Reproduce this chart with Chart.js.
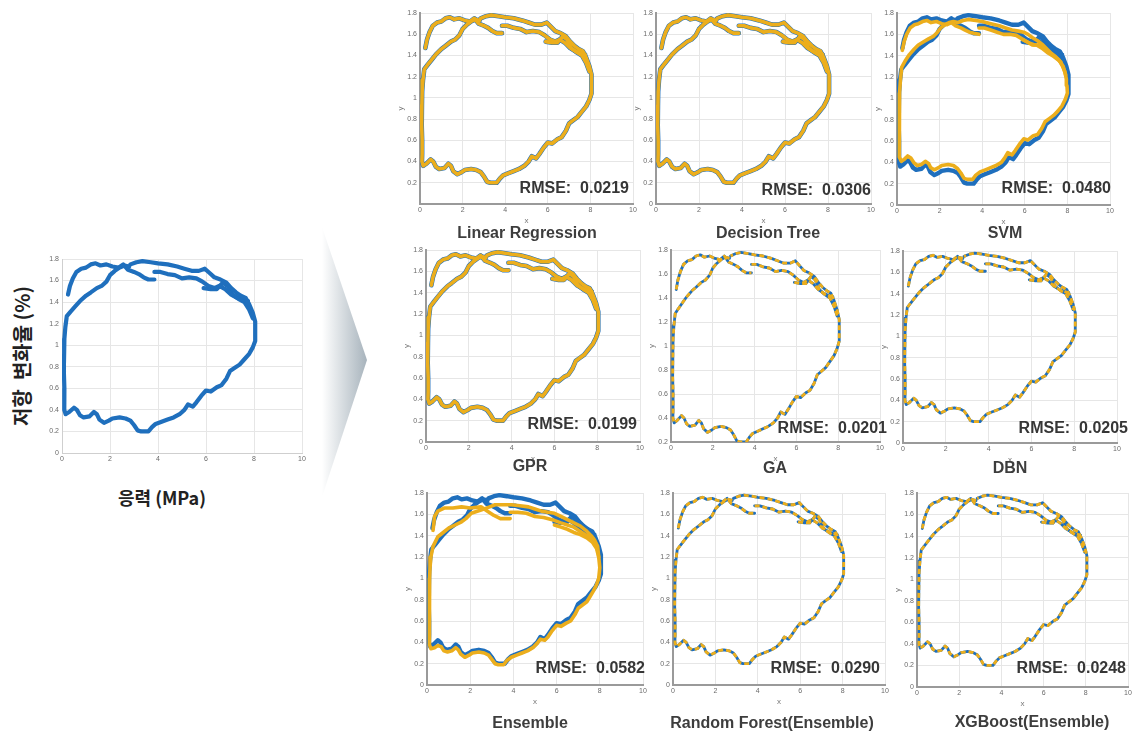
<!DOCTYPE html>
<html>
<head>
<meta charset="utf-8">
<script src="https://cdn.jsdelivr.net/npm/chart.js@4/dist/chart.umd.min.js"></script>
<style>
  body { margin: 0; background: #fff; width: 1135px; height: 738px; position: relative; overflow: hidden;
         font-family: "Liberation Sans", Arial, sans-serif; }
  .plot { position: absolute; }
  .txt { position: absolute; white-space: pre; font-weight: bold; color: #3d3d3d; line-height: 1; }
  .title { font-size: 16px; transform: translate(-50%, -50%); }
  .rmse { font-size: 16px; color: #363636; transform: translate(-100%, -50%); }
  .kr { font-family: "Noto Sans CJK KR", sans-serif; color: #222; }
</style>
</head>
<body>
<svg width="1135" height="738" style="position:absolute;left:0;top:0">
  <defs>
    <linearGradient id="chev" x1="0" x2="1" y1="0" y2="0">
      <stop offset="0" stop-color="#ffffff"/>
      <stop offset="1" stop-color="#a7b3bc"/>
    </linearGradient>
  </defs>
  <polygon points="322,227 367,360 322,497" fill="url(#chev)"/>
</svg>
<script>
// axis ticks shared by every panel
const xTicks = [0, 2, 4, 6, 8, 10]
const xTickLabels = ['0', '2', '4', '6', '8', '10']
const yTicks = [0, 0.2, 0.4, 0.6, 0.8, 1, 1.2, 1.4, 1.6, 1.8]
const yTickLabels = ['0', '0.2', '0.4', '0.6', '0.8', '1', '1.2', '1.4', '1.6', '1.8']

const models = ['Linear Regression', 'Decision Tree', 'SVM', 'GPR', 'GA', 'DBN',
  'Ensemble', 'Random Forest(Ensemble)', 'XGBoost(Ensemble)']
const rmse = ['0.0219', '0.0306', '0.0480', '0.0199', '0.0201', '0.0205', '0.0582', '0.0290', '0.0248']
const yAxisMin = [0, 0, 0, 0, 0.2, 0, 0, 0, 0]

// measured stress (MPa) vs resistance change (%) — main loop path
const measuredLoop = [
  [2.80,1.73],[2.60,1.74],[2.40,1.72],[2.20,1.69],[2.00,1.65],[1.85,1.59],[1.65,1.55],[1.45,1.53],[1.20,1.49],
  [1.00,1.46],[0.75,1.41],[0.55,1.36],[0.35,1.31],[0.20,1.27],[0.14,1.17],
  [0.10,1.06],[0.09,0.93],[0.08,0.82],[0.08,0.74],[0.10,0.60],[0.10,0.47],[0.09,0.40],[0.15,0.36],
  [0.30,0.38],[0.50,0.42],[0.62,0.40],[0.75,0.35],[0.90,0.33],[1.15,0.34],[1.33,0.38],[1.45,0.36],[1.56,0.31],
  [1.75,0.28],[1.95,0.30],[2.10,0.32],[2.40,0.33],[2.65,0.32],[2.85,0.30],[3.00,0.26],[3.15,0.21],[3.30,0.20],
  [3.60,0.20],[3.75,0.24],[3.90,0.27],[4.15,0.29],[4.40,0.31],[4.65,0.33],[4.90,0.36],[5.10,0.40],[5.25,0.45],
  [5.45,0.43],[5.60,0.47],[5.80,0.53],[6.00,0.58],[6.20,0.57],[6.45,0.61],[6.65,0.63],[6.85,0.69],[7.00,0.76],
  [7.20,0.79],[7.40,0.82],[7.60,0.87],[7.80,0.92],[7.95,0.98],[8.05,1.04],
  [8.05,1.13],[8.05,1.22],[7.95,1.30],[7.80,1.38],[7.65,1.44],[7.45,1.46],[7.25,1.49],[7.05,1.53],[6.85,1.58],
  [6.60,1.61],[6.35,1.63],[6.15,1.67],[5.95,1.71],[5.70,1.69],[5.40,1.69],[5.10,1.71],[4.80,1.73],[4.40,1.75],
  [4.00,1.76],[3.70,1.77],[3.35,1.78],[3.10,1.77],[2.85,1.75]
]
const measuredUpperLeft = [
  [0.25,1.47],[0.33,1.55],[0.45,1.62],[0.60,1.68],[0.80,1.71],[1.00,1.72],[1.20,1.75],[1.40,1.76],[1.60,1.74],
  [1.85,1.75],[2.10,1.73],[2.35,1.72],[2.55,1.75],[2.75,1.70],[3.00,1.68],[3.20,1.66],[3.40,1.63],[3.60,1.61],[3.85,1.61]
]
const measuredMiddle = [
  [3.85,1.68],[4.10,1.68],[4.40,1.66],[4.70,1.65],[5.00,1.62],[5.30,1.63],[5.60,1.62],[5.85,1.59],[6.10,1.55],
  [6.35,1.53],[6.55,1.55],[6.80,1.52],[7.05,1.47],[7.30,1.44],[7.55,1.42],[7.75,1.41]
]
const measuredLowerRight = [
  [5.90,1.53],[6.20,1.52],[6.45,1.52],[6.70,1.58],[6.90,1.55],[7.10,1.47],[7.35,1.43],[7.60,1.40],[7.80,1.33],[7.95,1.25]
]

// SVM prediction (visibly offset from measured)
const svmLoop = [
  [2.85,1.71],[2.65,1.72],[2.45,1.71],[2.25,1.69],[2.05,1.66],[1.90,1.62],[1.70,1.58],[1.50,1.56],[1.25,1.53],
  [1.00,1.50],[0.80,1.46],[0.58,1.41],[0.38,1.35],[0.22,1.29],[0.16,1.17],
  [0.12,1.05],[0.10,0.90],[0.10,0.75],[0.12,0.60],[0.12,0.45],[0.20,0.41],
  [0.35,0.43],[0.50,0.46],[0.65,0.44],[0.78,0.40],[0.95,0.37],[1.15,0.38],[1.33,0.41],[1.48,0.39],[1.58,0.35],
  [1.75,0.33],[1.95,0.35],[2.10,0.37],[2.40,0.38],[2.65,0.37],[2.85,0.34],[3.00,0.30],[3.15,0.25],[3.30,0.24],
  [3.55,0.24],[3.70,0.28],[3.90,0.31],[4.15,0.33],[4.40,0.35],[4.65,0.37],[4.90,0.40],[5.05,0.44],[5.20,0.49],
  [5.40,0.47],[5.55,0.51],[5.75,0.57],[5.95,0.62],[6.15,0.61],[6.40,0.65],[6.60,0.66],[6.80,0.72],[6.95,0.78],
  [7.15,0.81],[7.35,0.84],[7.55,0.88],[7.75,0.93],[7.90,0.99],[8.00,1.05],
  [7.98,1.12],[7.95,1.18],[7.88,1.25],[7.75,1.31],[7.60,1.36],[7.45,1.39],[7.25,1.42],[7.05,1.46],[6.85,1.50],
  [6.60,1.54],[6.35,1.57],[6.15,1.60],[5.95,1.62],[5.70,1.63],[5.40,1.64],[5.10,1.66],[4.80,1.68],[4.40,1.70],
  [4.00,1.72],[3.70,1.73],[3.35,1.74],[3.10,1.73],[2.85,1.71]
]
const svmUpperLeft = [
  [0.25,1.45],[0.33,1.53],[0.45,1.60],[0.62,1.66],[0.82,1.69],[1.00,1.70],[1.20,1.72],[1.40,1.73],[1.60,1.71],
  [1.85,1.72],[2.10,1.70],[2.35,1.69],[2.55,1.71],[2.75,1.68],[3.00,1.66],[3.20,1.64],[3.40,1.62],[3.60,1.61],[3.85,1.60]
]
const svmMiddle = [
  [3.85,1.66],[4.10,1.66],[4.40,1.64],[4.70,1.62],[5.00,1.60],[5.30,1.60],[5.60,1.59],[5.85,1.56],[6.10,1.53],
  [6.35,1.50],[6.55,1.50],[6.80,1.47],[7.05,1.43],[7.30,1.40],[7.50,1.37],[7.70,1.34]
]
const svmLowerRight = [
  [5.90,1.55],[6.20,1.52],[6.45,1.50],[6.70,1.50],[6.90,1.48],[7.10,1.44],[7.35,1.40],[7.60,1.36],[7.80,1.30],[7.92,1.22]
]

// Ensemble prediction (top branch sits low)
const ensLoop = [
  [2.90,1.67],[2.50,1.64],[2.05,1.61],[1.80,1.56],[1.60,1.53],[1.30,1.50],[1.00,1.47],[0.75,1.43],[0.50,1.39],
  [0.28,1.30],[0.18,1.20],[0.14,1.10],
  [0.12,1.00],[0.10,0.88],[0.10,0.78],[0.12,0.65],[0.12,0.50],[0.12,0.38],[0.18,0.34],
  [0.35,0.35],[0.50,0.37],[0.65,0.36],[0.78,0.32],[0.95,0.31],[1.15,0.32],[1.33,0.35],[1.45,0.33],[1.56,0.29],
  [1.75,0.26],[1.95,0.28],[2.10,0.30],[2.40,0.31],[2.65,0.30],[2.85,0.28],[3.00,0.24],[3.15,0.20],[3.30,0.19],
  [3.55,0.19],[3.70,0.23],[3.90,0.26],[4.15,0.28],[4.40,0.30],[4.65,0.32],[4.90,0.35],[5.10,0.39],[5.25,0.43],
  [5.45,0.42],[5.60,0.45],[5.80,0.51],[6.00,0.56],[6.20,0.55],[6.45,0.58],[6.65,0.60],[6.85,0.66],[7.00,0.72],
  [7.20,0.75],[7.40,0.78],[7.55,0.83],[7.70,0.88],[7.85,0.94],[7.95,1.00],
  [8.00,1.10],[7.95,1.20],[7.90,1.30],[7.75,1.36],[7.60,1.40],[7.35,1.45],[7.10,1.49],[6.80,1.52],[6.50,1.55],
  [6.20,1.58],[5.90,1.61],[5.60,1.62],[5.30,1.63],[5.00,1.65],[4.70,1.67],[4.30,1.68],[3.90,1.69],[3.50,1.69],
  [3.15,1.69],[2.90,1.67]
]
const ensUpperLeft = [
  [0.28,1.45],[0.35,1.58],[0.50,1.63],[0.82,1.66],[1.20,1.66],[1.60,1.67],[2.00,1.66],[2.50,1.67],[2.80,1.63],
  [3.10,1.59],[3.40,1.56],[3.85,1.56]
]
const ensMiddle = [
  [3.85,1.62],[4.20,1.62],[4.60,1.61],[5.00,1.58],[5.40,1.57],[5.80,1.55],[6.20,1.52],[6.50,1.50],[6.80,1.48],
  [7.10,1.44],[7.40,1.40],[7.70,1.37]
]
const ensLowerRight = [
  [5.90,1.50],[6.20,1.48],[6.50,1.46],[6.80,1.43],[7.10,1.41],[7.40,1.38],[7.65,1.34],[7.85,1.28],[7.95,1.20]
]

const BLUE = '#1f6fbd'
const ORANGE = '#ecae1c'

const measuredPaths = [measuredLoop, measuredUpperLeft, measuredMiddle, measuredLowerRight]
const svmPaths = [svmLoop, svmUpperLeft, svmMiddle, svmLowerRight]
const ensPaths = [ensLoop, ensUpperLeft, ensMiddle, ensLowerRight]

// panel frames: [left, top(y max), right, bottom(y min)] in page px
const panelArea = [
  [420, 13, 633, 204], [656, 13, 871, 204], [897, 13, 1110, 205],
  [426, 250, 640, 442], [671, 250, 880, 442], [903, 251, 1117, 443],
  [427, 493, 643, 685], [673, 493, 885, 685], [917, 493, 1128, 687]
]
const titlePos = [[527, 233], [768, 233], [1005, 233], [530, 466], [775, 468], [1010, 468],
  [530, 723], [772, 723], [1032, 722]]
const rmsePos = [[629, 188], [871, 190], [1111, 188], [637, 424], [887, 428], [1128, 428],
  [645, 668], [880, 668], [1126, 668]]
// line look per panel: dense overlay or dotted overlay
const panelStyle = ['dense', 'dense', 'offset', 'dense', 'dotted', 'dotted', 'offset', 'dotted', 'dotted']

function pathSets(paths, color, width, dash, order) {
  const cap = dash.length ? 'butt' : 'round'
  return paths.map(p => ({
    data: p.map(([x, y]) => ({ x, y })),
    showLine: true,
    borderColor: color,
    backgroundColor: color,
    borderWidth: width,
    borderDash: dash,
    borderCapStyle: cap,
    borderJoinStyle: 'round',
    pointRadius: 0,
    order
  }))
}

function addText(cls, text, x, y) {
  const d = document.createElement('div')
  d.className = 'txt ' + cls
  d.textContent = text
  d.style.left = x + 'px'
  d.style.top = y + 'px'
  document.body.appendChild(d)
  return d
}

function makePlot(area, yMin, datasets, opt) {
  const [L, T, R, B] = area
  const padL = opt.padL, padT = 8, padR = 9, padB = opt.padB
  const w = R - L + padL + padR
  const h = B - T + padT + padB
  const canvas = document.createElement('canvas')
  canvas.className = 'plot'
  canvas.width = w
  canvas.height = h
  canvas.style.left = (L - padL) + 'px'
  canvas.style.top = (T - padT) + 'px'
  document.body.appendChild(canvas)

  const yList = yTicks.filter(v => v >= yMin - 1e-9 && !(opt.skipZero && v === 0))
  const tickFont = { family: 'Liberation Sans', size: 7 }

  return new Chart(canvas, {
    type: 'scatter',
    data: { datasets },
    options: {
      responsive: false,
      animation: false,
      devicePixelRatio: 1,
      layout: { padding: { left: 0, top: padT, right: padR, bottom: 0 } },
      plugins: { legend: { display: false }, tooltip: { enabled: false } },
      scales: {
        x: {
          type: 'linear', min: 0, max: 10,
          afterBuildTicks: s => { s.ticks = xTicks.map(v => ({ value: v })) },
          afterFit: s => { s.height = padB },
          ticks: { font: tickFont, color: '#6a6a6a', padding: 2, maxRotation: 0,
            callback: v => xTickLabels[xTicks.indexOf(v)] },
          grid: { color: '#e6e6e6', lineWidth: 1, drawTicks: false },
          border: { display: true, color: opt.axisColor, width: opt.axisWidth },
          title: { display: opt.axisTitles, text: 'x', font: { family: 'Liberation Sans', size: 8 },
            color: '#777', padding: 0 }
        },
        y: {
          type: 'linear', min: yMin, max: 1.8,
          afterBuildTicks: s => { s.ticks = yList.map(v => ({ value: v })) },
          afterFit: s => { s.width = padL },
          ticks: { font: tickFont, color: '#6a6a6a', padding: 3,
            callback: v => yTickLabels[yTicks.indexOf(v)] },
          grid: { color: '#e6e6e6', lineWidth: 1, drawTicks: false },
          border: { display: true, color: opt.axisColor, width: opt.axisWidth },
          title: { display: opt.axisTitles, text: 'y', font: { family: 'Liberation Sans', size: 8 },
            color: '#777', padding: 0 }
        }
      }
    }
  })
}

// left: measured response only
makePlot([62, 259, 302, 453], 0, pathSets(measuredPaths, BLUE, 4.2, [], 1),
  { padL: 22, padB: 16, axisTitles: false, axisColor: '#cfcfcf', axisWidth: 1 })

const yTitle = addText('kr', '저항  변화율 (%)', 22, 356)
yTitle.style.fontSize = '20px'
yTitle.style.transform = 'translate(-50%, -50%) rotate(-90deg)'
const xTitle = addText('kr', '응력 (MPa)', 162, 497)
xTitle.style.fontSize = '18px'
xTitle.style.transform = 'translate(-50%, -50%)'

// right: 3x3 model comparison
models.forEach((name, i) => {
  const style = panelStyle[i]
  let sets
  if (style === 'dense') {
    sets = pathSets(measuredPaths, BLUE, 4.6, [], 2).concat(pathSets(measuredPaths, ORANGE, 3.6, [], 1))
  } else if (style === 'dotted') {
    sets = pathSets(measuredPaths, BLUE, 2.8, [], 2).concat(pathSets(measuredPaths, ORANGE, 2.8, [5, 3], 1))
  } else {
    const pred = name === 'SVM' ? svmPaths : ensPaths
    sets = pathSets(measuredPaths, BLUE, 4.4, [], 2).concat(pathSets(pred, ORANGE, 3.6, [], 1))
  }
  makePlot(panelArea[i], yAxisMin[i], sets,
    { padL: 24, padB: 22, axisTitles: true, axisColor: '#9a9a9a', axisWidth: 2, skipZero: i === 0 })
  addText('title', name, titlePos[i][0], titlePos[i][1])
  addText('rmse', 'RMSE:  ' + rmse[i], rmsePos[i][0], rmsePos[i][1])
})
</script>
</body>
</html>
